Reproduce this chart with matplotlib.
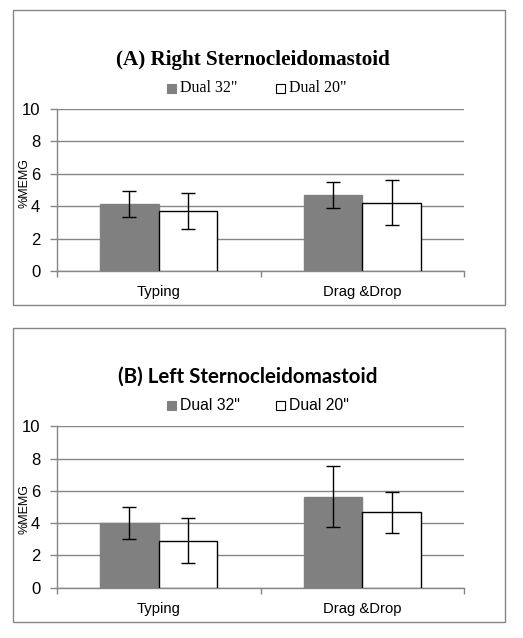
import matplotlib
matplotlib.use("Agg")
import matplotlib.pyplot as plt
from matplotlib.patches import Rectangle
import numpy as np

# ---- data ----
categories = ["Typing", "Drag &Drop"]
series_names = ['Dual 32"', 'Dual 20"']
titles = ["(A) Right Sternocleidomastoid", "(B) Left Sternocleidomastoid"]
ylabel = "%MEMG"
yticks = [0, 2, 4, 6, 8, 10]

right_means = {'Dual 32"': [4.15, 4.68], 'Dual 20"': [3.70, 4.20]}
right_err = {'Dual 32"': [0.81, 0.81], 'Dual 20"': [1.09, 1.39]}
left_means = {'Dual 32"': [4.00, 5.63], 'Dual 20"': [2.90, 4.67]}
left_err = {'Dual 32"': [1.01, 1.90], 'Dual 20"': [1.40, 1.29]}

W, H = 523, 638
DPI = 100
SANS = "Liberation Sans"

fig = plt.figure(figsize=(W / DPI, H / DPI), dpi=DPI)
fig.patch.set_facecolor("white")

def fx(px):
    return px / W

def fy(py):
    return 1 - py / H

GRID = "#868686"
BAR_GRAY = "#808080"

panels = [
    dict(box=(13, 10, 505, 305), ax=(57, 109, 464, 271), title=titles[0], title_y=60, title_x=253,
         title_font=dict(family="Liberation Serif", weight="bold", size=15.2),
         leg_y=88.5, leg_font=dict(family="Liberation Serif", size=11.5),
         means=right_means, err=right_err, ylab_y=183),
    dict(box=(13, 328, 505, 622), ax=(57, 426.3, 464, 587.7), title=titles[1], title_y=377, title_x=247.5,
         title_font=dict(family="Lato", weight="bold", size=14.8),
         leg_y=405, leg_font=dict(family=SANS, size=11.3),
         means=left_means, err=left_err, ylab_y=509),
]

for p in panels:
    x0, y0, x1, y1 = p["box"]
    fig.add_artist(Rectangle((fx(x0), fy(y1)), fx(x1) - fx(x0), fy(y0) - fy(y1),
                             transform=fig.transFigure, fill=False, edgecolor=GRID, linewidth=1.0))
    ax0, ay0, ax1, ay1 = p["ax"]
    ax = fig.add_axes([fx(ax0), fy(ay1), fx(ax1) - fx(ax0), fy(ay0) - fy(ay1)])
    ax.set_facecolor("none")

    x = np.arange(len(categories))
    bw = 0.288
    colors = [BAR_GRAY, "white"]
    edges = [BAR_GRAY, "black"]
    for i, name in enumerate(series_names):
        xs = x + (i - 0.5) * bw
        ax.bar(xs, p["means"][name], width=bw, color=colors[i], edgecolor=edges[i],
               linewidth=1.0, zorder=3)
        ax.errorbar(xs, p["means"][name], yerr=p["err"][name], fmt="none", ecolor="black",
                    elinewidth=1.0, capsize=5, capthick=1.0, zorder=4)

    ax.set_xlim(-0.5, len(categories) - 0.5)
    ax.set_ylim(0, 10)
    ax.set_yticks(yticks)
    ax.set_yticklabels([str(t) for t in yticks], fontfamily=SANS, fontsize=12)
    ax.yaxis.grid(True, color=GRID, linewidth=1.0, zorder=0)
    ax.set_axisbelow(True)
    ax.set_xticks(x)
    ax.set_xticklabels(categories, fontfamily=SANS, fontsize=10.7)
    ax.tick_params(axis="x", length=0, pad=10)
    ax.set_xticks(np.arange(len(categories) + 1) - 0.5, minor=True)
    ax.tick_params(axis="x", which="minor", length=4, color=GRID, width=1.0, direction="out")
    ax.tick_params(axis="y", length=5, color=GRID, width=1.0, pad=7)
    for s in ["top", "right"]:
        ax.spines[s].set_visible(False)
    for s in ["left", "bottom"]:
        ax.spines[s].set_color(GRID)
        ax.spines[s].set_linewidth(1.0)

    fig.text(fx(p["title_x"]), fy(p["title_y"]), p["title"], ha="center", va="center", **p["title_font"])
    fig.text(fx(24), fy(p["ylab_y"]), ylabel, rotation=90, ha="center", va="center",
             family=SANS, fontsize=9)

    # legend
    sq = 9
    for (sx, tx), name, c in zip([(167, 180), (276, 289)], series_names, colors):
        fig.add_artist(Rectangle((fx(sx), fy(p["leg_y"] + sq / 2)), sq / W, sq / H,
                                 transform=fig.transFigure, facecolor=c,
                                 edgecolor=("black" if c == "white" else c), linewidth=0.8))
        fig.text(fx(tx), fy(p["leg_y"]), name, ha="left", va="center", **p["leg_font"])

fig.savefig("out.png", dpi=DPI)
